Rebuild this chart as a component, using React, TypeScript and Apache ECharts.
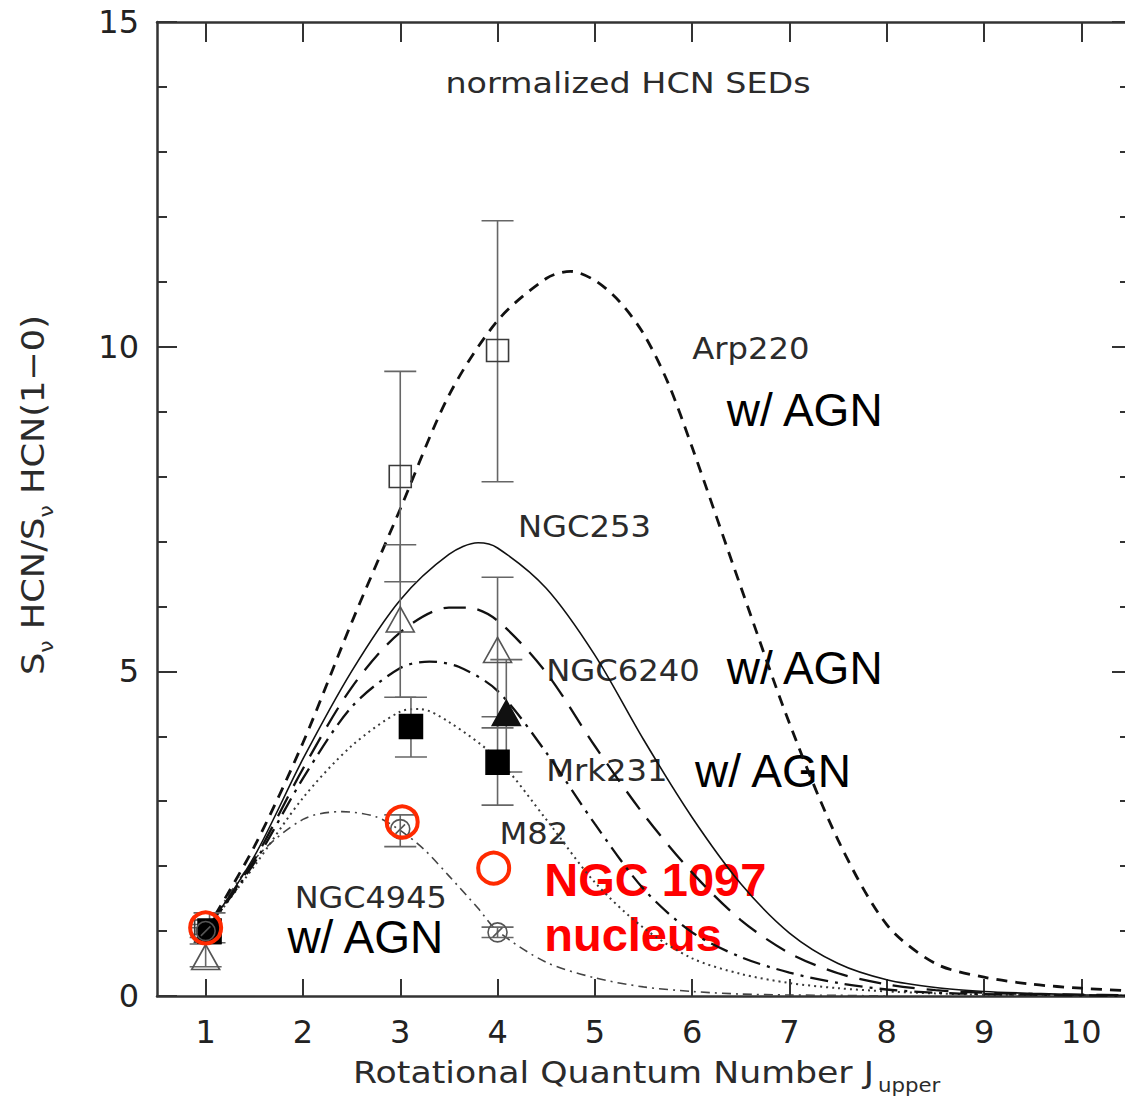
import { useEffect, useRef } from "react";
import * as echarts from "echarts";

// Integer J_upper positions for ticks and tick labels
const xTicks = [1, 2, 3, 4, 5, 6, 7, 8, 9, 10];

// Model SEDs normalised to HCN(1-0): [J_upper, S_J / S_1-0]
const arp220Model = [
  [1, 1.0], [1.5, 2.3], [2, 3.9], [2.5, 5.75], [3, 7.5], [3.5, 9.25], [4, 10.4],
  [4.5, 11.05], [4.75, 11.16], [5, 11.02], [5.25, 10.7], [5.5, 10.2], [5.75, 9.45],
  [6, 8.45], [6.5, 6.3], [7, 4.2], [7.5, 2.4], [8, 1.1], [8.5, 0.5], [9, 0.29],
  [9.5, 0.18], [10, 0.12], [10.5, 0.08],
];
const ngc253Model = [
  [1, 1.0], [1.5, 2.15], [2, 3.65], [2.5, 5.0], [3, 6.1], [3.5, 6.8], [3.8, 6.98],
  [4, 6.9], [4.5, 6.28], [5, 5.25], [5.5, 3.95], [6, 2.75], [6.5, 1.73], [7, 0.97],
  [7.5, 0.5], [8, 0.25], [8.5, 0.13], [9, 0.07], [9.5, 0.04], [10, 0.02], [10.5, 0.01],
];
const ngc6240Model = [
  [1, 1.0], [1.5, 2.1], [2, 3.5], [2.5, 4.75], [3, 5.6], [3.5, 5.98], [3.7, 5.98],
  [4, 5.78], [4.5, 4.98], [5, 3.85], [5.5, 2.8], [6, 1.9], [6.5, 1.17], [7, 0.66],
  [7.5, 0.35], [8, 0.18], [8.5, 0.09], [9, 0.05], [9.5, 0.03], [10, 0.02], [10.5, 0.01],
];
const mrk231Model = [
  [1, 1.0], [1.5, 2.05], [2, 3.35], [2.5, 4.45], [3, 5.05], [3.3, 5.15], [3.6, 5.07],
  [4, 4.7], [4.5, 3.75], [5, 2.65], [5.5, 1.65], [6, 0.98], [6.5, 0.6], [7, 0.36],
  [7.5, 0.2], [8, 0.1], [8.5, 0.05], [9, 0.03], [9.5, 0.02], [10, 0.01], [10.5, 0.0],
];
const m82Model = [
  [1, 1.0], [1.5, 2.0], [2, 3.05], [2.5, 3.85], [3, 4.38], [3.2, 4.42], [3.5, 4.22],
  [4, 3.65], [4.5, 2.72], [5, 1.75], [5.5, 1.05], [6, 0.58], [6.5, 0.34], [7, 0.2],
  [7.5, 0.12], [8, 0.07], [8.5, 0.04], [9, 0.02], [9.5, 0.01], [10, 0.01], [10.5, 0.0],
];
const ngc4945Model = [
  [1, 1.0], [1.5, 2.1], [2, 2.72], [2.4, 2.84], [2.75, 2.76], [3, 2.55], [3.25, 2.25],
  [3.5, 1.85], [3.8, 1.35], [4, 1.0], [4.5, 0.52], [5, 0.28], [5.5, 0.14], [6, 0.07],
  [6.5, 0.03], [7, 0.015], [7.5, 0.01], [8, 0.0],
];

// Observed line ratios: [J_upper, ratio, lower error, upper error]
const arp220Obs = [[1.0, 1.0, 0.9, 1.1], [3.0, 8.0, 6.38, 9.62], [4.0, 9.94, 7.92, 11.94]];
const ngc6240Obs = [[1.0, 0.6, 0.45, 0.8], [3.0, 5.8, 4.6, 6.95], [4.0, 5.33, 4.13, 6.45]];
const mrk231Obs = [[4.09, 4.36, 3.45, 5.18]];
const m82Obs = [[1.04, 1.0, 0.82, 1.28], [3.11, 4.15, 3.68, 4.6], [4.0, 3.6, 2.94, 4.3]];
const ngc4945Obs = [[1.0, 1.0, 0.95, 1.05], [3.0, 2.57, 2.3, 2.79], [4.0, 0.98, 0.9, 1.06]];
// NGC 1097 nucleus: [J_upper, ratio]
const ngc1097Obs = [[1.0, 1.05], [3.02, 2.68], [3.96, 1.97]];

// In-plot annotations (placed in data coordinates)
const labelFont = "DejaVu Sans";
const annotations = [
  { x: 6.0, y: 9.98, text: "Arp220", size: 31, sx: 1.04, family: labelFont, weight: "normal", color: "#2b2b2b" },
  { x: 4.21, y: 7.23, text: "NGC253", size: 31, sx: 1.04, family: labelFont, weight: "normal", color: "#2b2b2b" },
  { x: 4.5, y: 5.02, text: "NGC6240", size: 31, sx: 1.04, family: labelFont, weight: "normal", color: "#2b2b2b" },
  { x: 4.5, y: 3.48, text: "Mrk231", size: 31, sx: 1.04, family: labelFont, weight: "normal", color: "#2b2b2b" },
  { x: 4.02, y: 2.51, text: "M82", size: 31, sx: 1.04, family: labelFont, weight: "normal", color: "#2b2b2b" },
  { x: 1.915, y: 1.525, text: "NGC4945", size: 31, sx: 1.03, family: labelFont, weight: "normal", color: "#2b2b2b" },
  { x: 6.355, y: 9.03, text: "w/ AGN", size: 46, sx: 1, family: "Liberation Sans", weight: "normal", color: "#000" },
  { x: 6.355, y: 5.05, text: "w/ AGN", size: 46, sx: 1, family: "Liberation Sans", weight: "normal", color: "#000" },
  { x: 6.03, y: 3.47, text: "w/ AGN", size: 46, sx: 1, family: "Liberation Sans", weight: "normal", color: "#000" },
  { x: 1.84, y: 0.91, text: "w/ AGN", size: 46, sx: 1, family: "Liberation Sans", weight: "normal", color: "#000" },
  { x: 4.48, y: 1.79, text: "NGC 1097", size: 47, sx: 1, family: "Liberation Sans", weight: "bold", color: "#ff0000" },
  { x: 4.48, y: 0.94, text: "nucleus", size: 47, sx: 1, family: "Liberation Sans", weight: "bold", color: "#ff0000" },
];

const axisColor = "#333";
const ink = "#2b2b2b";

function modelLine(name: string, data: number[][], type: any, width: number, color: string) {
  return {
    name,
    type: "line",
    data,
    showSymbol: false,
    smooth: 0.3,
    z: 4,
    lineStyle: { type, width, color, cap: "butt" },
  };
}

function markers(name: string, obs: number[][], symbol: string, size: any, fill: string, stroke: string) {
  return {
    name,
    type: "scatter",
    data: obs.map((d) => [d[0], d[1]]),
    symbol,
    symbolSize: size,
    z: 6,
    itemStyle: { color: fill, borderColor: stroke, borderWidth: 1.6, opacity: 1 },
  };
}

const errorBars = [...arp220Obs, ...ngc6240Obs, ...mrk231Obs, ...m82Obs, ...ngc4945Obs].map((d) => [d[0], d[2], d[3]]);

// The frame's right edge sits just beyond the visible page width.
const CHART_W = 1140;
const CHART_H = 1097;

const option: any = {
  animation: false,
  backgroundColor: "#ffffff",
  grid: { left: 157, top: 22, right: CHART_W - 1130, bottom: CHART_H - 996 },
  xAxis: [
    {
      type: "value",
      min: 0.5,
      max: 10.5,
      position: "bottom",
      axisLine: { show: true, onZero: false, lineStyle: { color: axisColor, width: 2.5 } },
      axisTick: { show: true, inside: true, length: 17, customValues: xTicks, lineStyle: { color: axisColor, width: 2 } },
      axisLabel: { customValues: xTicks, fontSize: 32, fontFamily: labelFont, color: "#222", margin: 20 },
      splitLine: { show: false },
    },
    {
      type: "value",
      min: 0.5,
      max: 10.5,
      position: "top",
      axisLine: { show: true, onZero: false, lineStyle: { color: axisColor, width: 2.5 } },
      axisTick: { show: true, inside: true, length: 20, customValues: xTicks, lineStyle: { color: axisColor, width: 2 } },
      axisLabel: { show: false },
      splitLine: { show: false },
    },
  ],
  yAxis: [
    {
      type: "value",
      min: 0,
      max: 15,
      interval: 5,
      position: "left",
      axisLine: { show: true, onZero: false, lineStyle: { color: axisColor, width: 2.5 } },
      axisTick: { show: true, inside: true, length: 20, lineStyle: { color: axisColor, width: 2 } },
      minorTick: { show: true, splitNumber: 5, length: 10, lineStyle: { color: axisColor, width: 2 } },
      axisLabel: { fontSize: 32, fontFamily: labelFont, color: "#222", margin: 18 },
      splitLine: { show: false },
    },
    {
      type: "value",
      min: 0,
      max: 15,
      interval: 5,
      position: "right",
      axisLine: { show: true, onZero: false, lineStyle: { color: axisColor, width: 2.5 } },
      axisTick: { show: true, inside: true, length: 18, lineStyle: { color: axisColor, width: 2 } },
      minorTick: { show: true, splitNumber: 5, length: 10, lineStyle: { color: axisColor, width: 2 } },
      axisLabel: { show: false },
      splitLine: { show: false },
    },
  ],
  graphic: [
    {
      type: "text",
      x: 628,
      y: 83,
      scaleX: 1.15,
      style: {
        text: "normalized HCN SEDs",
        fontSize: 29,
        fontFamily: labelFont,
        fill: ink,
        align: "center",
        verticalAlign: "middle",
        textAlign: "center",
        textVerticalAlign: "middle",
      },
    },
    {
      type: "group",
      x: 33,
      y: 495,
      rotation: Math.PI / 2,
      children: [
        {
          type: "text",
          x: 0,
          y: 0,
          scaleX: 1.1,
          style: {
            text: "{m|S}{s|ν}{m| HCN/S}{s|ν}{m| HCN(1−0)}",
            fill: ink,
            fontFamily: labelFont,
            align: "center",
            verticalAlign: "middle",
            textAlign: "center",
            textVerticalAlign: "middle",
            rich: {
              m: { fontSize: 32, fontFamily: labelFont, fill: ink, lineHeight: 46, verticalAlign: "middle" },
              s: { fontSize: 20, fontFamily: labelFont, fill: ink, lineHeight: 46, verticalAlign: "bottom" },
            },
          },
        },
      ],
    },
    {
      type: "text",
      x: 353,
      y: 1072,
      scaleX: 1.12,
      style: {
        text: "Rotational Quantum Number J",
        fontSize: 31,
        fontFamily: labelFont,
        fill: ink,
        align: "left",
        verticalAlign: "middle",
        textAlign: "left",
        textVerticalAlign: "middle",
      },
    },
    {
      type: "text",
      x: 878,
      y: 1085,
      scaleX: 1.12,
      style: {
        text: "upper",
        fontSize: 19,
        fontFamily: labelFont,
        fill: ink,
        align: "left",
        verticalAlign: "middle",
        textAlign: "left",
        textVerticalAlign: "middle",
      },
    },
  ],
  series: [
    {
      name: "annotations",
      type: "custom",
      z: 2,
      data: annotations.map((a, i) => [a.x, a.y, i]),
      encode: { x: 0, y: 1 },
      renderItem: (params: any, api: any) => {
        const a = annotations[params.dataIndex];
        const p = api.coord([api.value(0), api.value(1)]);
        return {
          type: "text",
          x: p[0],
          y: p[1],
          scaleX: a.sx,
          style: {
            text: a.text,
            fontSize: a.size,
            fontFamily: a.family,
            fontWeight: a.weight,
            fill: a.color,
            align: "left",
            verticalAlign: "middle",
            textAlign: "left",
            textVerticalAlign: "middle",
          },
        };
      },
    },
    modelLine("NGC4945 model", ngc4945Model, [9, 5, 2, 5], 1.6, "#444"),
    modelLine("M82 model", m82Model, [2, 4], 2, "#3a3a3a"),
    modelLine("Mrk231 model", mrk231Model, [18, 7, 3, 7], 2.3, "#111"),
    modelLine("NGC6240 model", ngc6240Model, [22, 12], 2.3, "#111"),
    modelLine("NGC253 model", ngc253Model, "solid", 1.6, "#111"),
    modelLine("Arp220 model", arp220Model, [11, 8], 2.8, "#111"),
    {
      name: "error bars",
      type: "custom",
      z: 5,
      data: errorBars,
      encode: { x: 0, y: [1, 2] },
      renderItem: (params: any, api: any) => {
        const x = api.value(0);
        const lo = api.coord([x, api.value(1)]);
        const hi = api.coord([x, api.value(2)]);
        const h = 16;
        const style = { stroke: "#666", lineWidth: 1.6, fill: null };
        return {
          type: "group",
          children: [
            { type: "line", shape: { x1: lo[0], y1: lo[1], x2: hi[0], y2: hi[1] }, style },
            { type: "line", shape: { x1: lo[0] - h, y1: lo[1], x2: lo[0] + h, y2: lo[1] }, style },
            { type: "line", shape: { x1: hi[0] - h, y1: hi[1], x2: hi[0] + h, y2: hi[1] }, style },
          ],
        };
      },
    },
    markers("Arp220", arp220Obs, "rect", 22, "rgba(0,0,0,0)", "#3a3a3a"),
    markers("NGC6240", ngc6240Obs, "triangle", [28, 25], "rgba(0,0,0,0)", "#555"),
    markers("Mrk231", mrk231Obs, "triangle", [28, 25], "#111", "#111"),
    markers("M82", m82Obs, "rect", [23, 24], "#000", "#000"),
    markers(
      "NGC4945",
      ngc4945Obs,
      "path://M0,10A10,10,0,1,1,20,10A10,10,0,1,1,0,10ZM5,15L15,5",
      19,
      "rgba(0,0,0,0)",
      "#555"
    ),
    {
      name: "NGC 1097 nucleus",
      type: "scatter",
      data: ngc1097Obs,
      symbol: "circle",
      symbolSize: 31,
      z: 10,
      itemStyle: { color: "rgba(0,0,0,0)", borderColor: "#ff2a00", borderWidth: 4, opacity: 1 },
    },
  ],
};

export default function App() {
  const ref = useRef<HTMLDivElement>(null);
  useEffect(() => {
    if (!ref.current) return;
    const chart = echarts.init(ref.current, undefined, { renderer: "svg" });
    chart.setOption(option);
    return () => chart.dispose();
  }, []);
  return (
    <div
      style={{
        position: "absolute",
        left: 0,
        top: 0,
        width: 1125,
        height: CHART_H,
        overflow: "hidden",
        background: "#fff",
      }}
    >
      <div ref={ref} style={{ width: CHART_W, height: CHART_H }} />
    </div>
  );
}
